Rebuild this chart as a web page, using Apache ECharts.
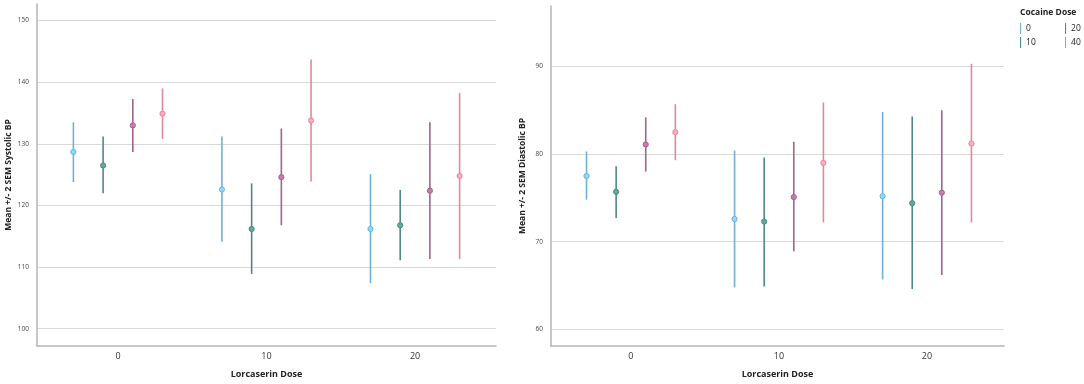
<!DOCTYPE html>
<html><head><meta charset="utf-8">
<script src="https://cdn.jsdelivr.net/npm/echarts@6/dist/echarts.min.js"></script>
<style>html,body{margin:0;padding:0;background:#fff}#c{width:1084px;height:384px}</style>
</head><body><div id="c"></div>
<script>
const categories = ['0', '10', '20'];
const doses = ['0', '10', '20', '40'];
const sysTicks = [100, 110, 120, 130, 140, 150];
const diaTicks = [60, 70, 80, 90];

// Systolic BP: mean, low (-2 SEM), high (+2 SEM), per Lorcaserin dose
const sysMean0 = [128.7, 122.6, 116.2];
const sysLow0 = [123.8, 114.1, 107.4];
const sysHigh0 = [133.5, 131.2, 125.1];
const sysMean10 = [126.5, 116.2, 116.8];
const sysLow10 = [122.0, 108.9, 111.1];
const sysHigh10 = [131.2, 123.6, 122.5];
const sysMean20 = [133.0, 124.6, 122.4];
const sysLow20 = [128.7, 116.8, 111.3];
const sysHigh20 = [137.3, 132.5, 133.5];
const sysMean40 = [134.9, 133.8, 124.8];
const sysLow40 = [130.8, 123.9, 111.3];
const sysHigh40 = [139.0, 143.7, 138.3];

// Diastolic BP
const diaMean0 = [77.5, 72.6, 75.2];
const diaLow0 = [74.8, 64.8, 65.7];
const diaHigh0 = [80.3, 80.4, 84.8];
const diaMean10 = [75.7, 72.3, 74.4];
const diaLow10 = [72.7, 64.9, 64.6];
const diaHigh10 = [78.6, 79.6, 84.3];
const diaMean20 = [81.1, 75.1, 75.6];
const diaLow20 = [78.0, 68.9, 66.2];
const diaHigh20 = [84.2, 81.4, 85.0];
const diaMean40 = [82.5, 79.0, 81.2];
const diaLow40 = [79.3, 72.2, 72.2];
const diaHigh40 = [85.7, 85.9, 90.3];

const colors = ['#6fb1d9', '#4f8883', '#a3638b', '#e0899b'];
const offsets = [-0.3, -0.1, 0.1, 0.3];

const sys = [[sysMean0, sysLow0, sysHigh0], [sysMean10, sysLow10, sysHigh10], [sysMean20, sysLow20, sysHigh20], [sysMean40, sysLow40, sysHigh40]];
const dia = [[diaMean0, diaLow0, diaHigh0], [diaMean10, diaLow10, diaHigh10], [diaMean20, diaLow20, diaHigh20], [diaMean40, diaLow40, diaHigh40]];

function mkData(set, k) {
  return categories.map((c, i) => [i + offsets[k], set[0][i], set[1][i], set[2][i]]);
}
function renderItem(color) {
  return function (params, api) {
    const x = api.value(0);
    const m = api.coord([x, api.value(1)]);
    const lo = api.coord([x, api.value(2)]);
    const hi = api.coord([x, api.value(3)]);
    return {
      type: 'group',
      children: [
        { type: 'line', shape: { x1: lo[0], y1: lo[1], x2: hi[0], y2: hi[1] }, style: { stroke: color, lineWidth: 1.6 } },
        { type: 'circle', shape: { cx: m[0], cy: m[1], r: 2.6 }, style: { fill: echarts.color.lift(color, -0.25), stroke: color, lineWidth: 1 } }
      ]
    };
  };
}

const series = [];
[sys, dia].forEach((set, g) => {
  set.forEach((s, k) => {
    series.push({
      type: 'custom', name: doses[k], xAxisIndex: g, yAxisIndex: g,
      itemStyle: { color: colors[k] },
      renderItem: renderItem(colors[k]),
      encode: { x: 0, y: [1, 2, 3] },
      data: mkData(s, k)
    });
  });
});

function xAxis(gi) {
  return {
    type: 'value', gridIndex: gi, min: -0.545, max: 2.545,
    name: 'Lorcaserin Dose', nameLocation: 'middle', nameGap: 24,
    nameTextStyle: { fontFamily: 'Open Sans', fontWeight: 'bold', fontSize: 9, color: '#222' },
    axisLine: { show: true, onZero: false, lineStyle: { color: '#b5b5b5', width: 1.5 } },
    axisTick: { show: false, customValues: [0, 1, 2] },
    splitLine: { show: false },
    axisLabel: { customValues: [0, 1, 2], formatter: v => categories[Math.round(v)], fontFamily: 'Open Sans', fontSize: 9, color: '#333', margin: 6 }
  };
}
function yAxis(gi, min, max, ticks, name) {
  return {
    type: 'value', gridIndex: gi, min: min, max: max,
    name: name, nameLocation: 'middle', nameGap: 24, nameRotate: 90,
    nameTextStyle: { fontFamily: 'Open Sans', fontWeight: 'bold', fontSize: 8.5, color: '#222' },
    axisLine: { show: true, onZero: false, lineStyle: { color: '#b5b5b5', width: 1.5 } },
    axisTick: { show: false, customValues: ticks },
    splitLine: { show: true, lineStyle: { color: '#d9d9d9', width: 1.2 } },
    axisLabel: { customValues: ticks, fontFamily: 'Open Sans', fontSize: 6.5, color: '#444', margin: 8 }
  };
}

const legendBase = { orient: 'vertical', top: 23, padding: 0, itemWidth: 3, itemHeight: 11, itemGap: 3,
  icon: 'path://M0,0L1,0L1,10L0,10Z',
  textStyle: { fontFamily: 'Open Sans', fontSize: 8.5, color: '#222', padding: [0, 0, 0, -1] } };

const chart = echarts.init(document.getElementById('c'), null, { renderer: 'canvas' });
chart.setOption({
  animation: false,
  backgroundColor: '#fff',
  grid: [
    { left: 37, right: 588, top: 4, bottom: 37 },
    { left: 551, right: 80, top: 6, bottom: 35 }
  ],
  xAxis: [xAxis(0), Object.assign(xAxis(1), { min: -0.54, max: 2.52 })],
  yAxis: [
    yAxis(0, 97.2, 152.7, sysTicks, 'Mean +/- 2 SEM Systolic BP'),
    yAxis(1, 58.1, 96.9, diaTicks, 'Mean +/- 2 SEM Diastolic BP')
  ],
  title: { text: 'Cocaine Dose', left: 1015, top: 3, textStyle: { fontFamily: 'Open Sans', fontWeight: 'bold', fontSize: 8.5, color: '#222' } },
  legend: [
    Object.assign({ data: ['0', '10'], left: 1020 }, legendBase),
    Object.assign({ data: ['20', '40'], left: 1065 }, legendBase)
  ],
  series: series
});
</script></body></html>
